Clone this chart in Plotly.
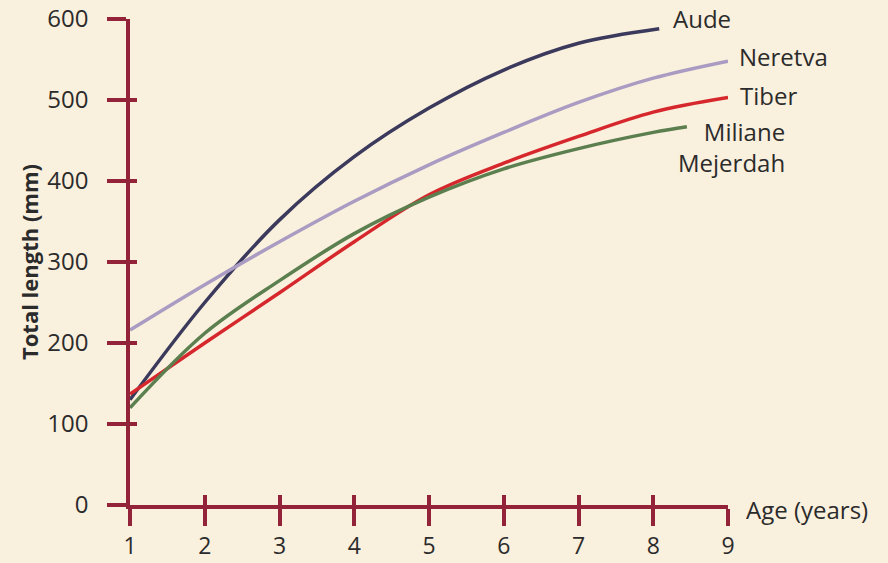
import plotly.graph_objects as go

# ---- data ----
aude_age = [1, 2, 3, 4, 5, 6, 7, 8.08]
aude_len = [130, 250, 352, 430, 490, 537, 570, 588]

neretva_age = [1, 2, 3, 4, 5, 6, 7, 8, 9]
neretva_len = [216, 272, 325, 375, 420, 460, 497, 527, 548]

tiber_age = [1, 2, 3, 4, 5, 6, 7, 8, 9]
tiber_len = [137, 200, 262, 325, 383, 422, 455, 485, 503]

miliane_age = [1, 2, 3, 4, 5, 6, 7, 8, 8.45]
miliane_len = [120, 212, 277, 335, 380, 415, 440, 460, 467]

x_ticks = [1, 2, 3, 4, 5, 6, 7, 8, 9]
y_ticks = [0, 100, 200, 300, 400, 500, 600]

AXIS = "#922338"
BG = "#FAF0DE"
TXT = "#2b2b2b"
FONT = "Open Sans"

series = [
    ("Aude", aude_age, aude_len, "#3b3a5c"),
    ("Neretva", neretva_age, neretva_len, "#a99bc2"),
    ("Tiber", tiber_age, tiber_len, "#d6282c"),
    ("Miliane<br>Mejerdah", miliane_age, miliane_len, "#5b7f4f"),
]

fig = go.Figure()
for name, xs, ys, col in series:
    fig.add_trace(go.Scatter(x=xs, y=ys, mode="lines", name=name,
                             line=dict(color=col, width=3.5, shape="spline", smoothing=1.0),
                             hoverinfo="skip", showlegend=False))

# dummy trace to realise the overlay axes (inner half of crossing ticks)
fig.add_trace(go.Scatter(x=[None], y=[None], xaxis="x2", yaxis="y2",
                         showlegend=False, hoverinfo="skip"))

label_cfg = {
    "Aude": dict(xshift=12, yshift=10),
    "Neretva": dict(xshift=9, yshift=5),
    "Tiber": dict(xshift=10, yshift=2),
    "Miliane<br>Mejerdah": dict(xshift=-11, yshift=-20),
}
for name, xs, ys, col in series:
    cfg = label_cfg[name]
    fig.add_annotation(x=xs[-1], y=ys[-1], xref="x", yref="y", text=name,
                       showarrow=False, xanchor="left", yanchor="middle",
                       align="right" if "Miliane" in name else "left",
                       xshift=cfg["xshift"], yshift=cfg["yshift"],
                       font=dict(family=FONT, size=24, color=TXT))

fig.add_annotation(x=9, y=0, xref="x", yref="y", text="Age (years)", showarrow=False,
                   xanchor="left", yanchor="middle", xshift=16, yshift=-4,
                   font=dict(family=FONT, size=24, color=TXT))

fig.update_layout(
    width=888, height=563, autosize=False,
    margin=dict(l=130, r=160, t=19, b=58, autoexpand=False),
    paper_bgcolor=BG, plot_bgcolor=BG,
    xaxis=dict(range=[1, 9], tickvals=x_ticks, ticktext=[str(v) for v in x_ticks],
               showgrid=False, zeroline=False, showline=True, linecolor=AXIS, linewidth=3.5,
               ticks="outside", ticklen=17, tickwidth=3.5, tickcolor=AXIS,
               ticklabelstandoff=1, automargin=False,
               tickfont=dict(family=FONT, size=23, color=TXT), fixedrange=True),
    yaxis=dict(range=[0, 600], tickvals=y_ticks, showgrid=False, zeroline=False,
               showline=True, linecolor=AXIS, linewidth=3.5,
               ticks="outside", ticklen=19, tickwidth=3.5, tickcolor=AXIS,
               ticklabelstandoff=14, automargin=False,
               tickfont=dict(family=FONT, size=24, color=TXT),
               title=dict(text="<b>Total length (mm)</b>", standoff=4,
                          font=dict(family=FONT, size=22, color=TXT)),
               fixedrange=True),
    xaxis2=dict(range=[1, 9], tickvals=x_ticks, overlaying="x", anchor="y", side="bottom",
                showgrid=False, zeroline=False, showline=False, showticklabels=False,
                automargin=False,
                ticks="inside", ticklen=10, tickwidth=3.5, tickcolor=AXIS, fixedrange=True),
    yaxis2=dict(range=[0, 600], tickvals=y_ticks, overlaying="y", anchor="x", side="left",
                showgrid=False, zeroline=False, showline=False, showticklabels=False,
                automargin=False,
                ticks="inside", ticklen=7, tickwidth=3.5, tickcolor=AXIS, fixedrange=True),
)

post = ("document.body.style.margin='0';document.body.style.background='%s';"
        "var gd=document.getElementById('{plot_id}');"
        "Plotly.relayout(gd,{width:888,height:563});" % BG)

fig.write_html("out.html", post_script=post,
               config={"responsive": False, "displayModeBar": False})
